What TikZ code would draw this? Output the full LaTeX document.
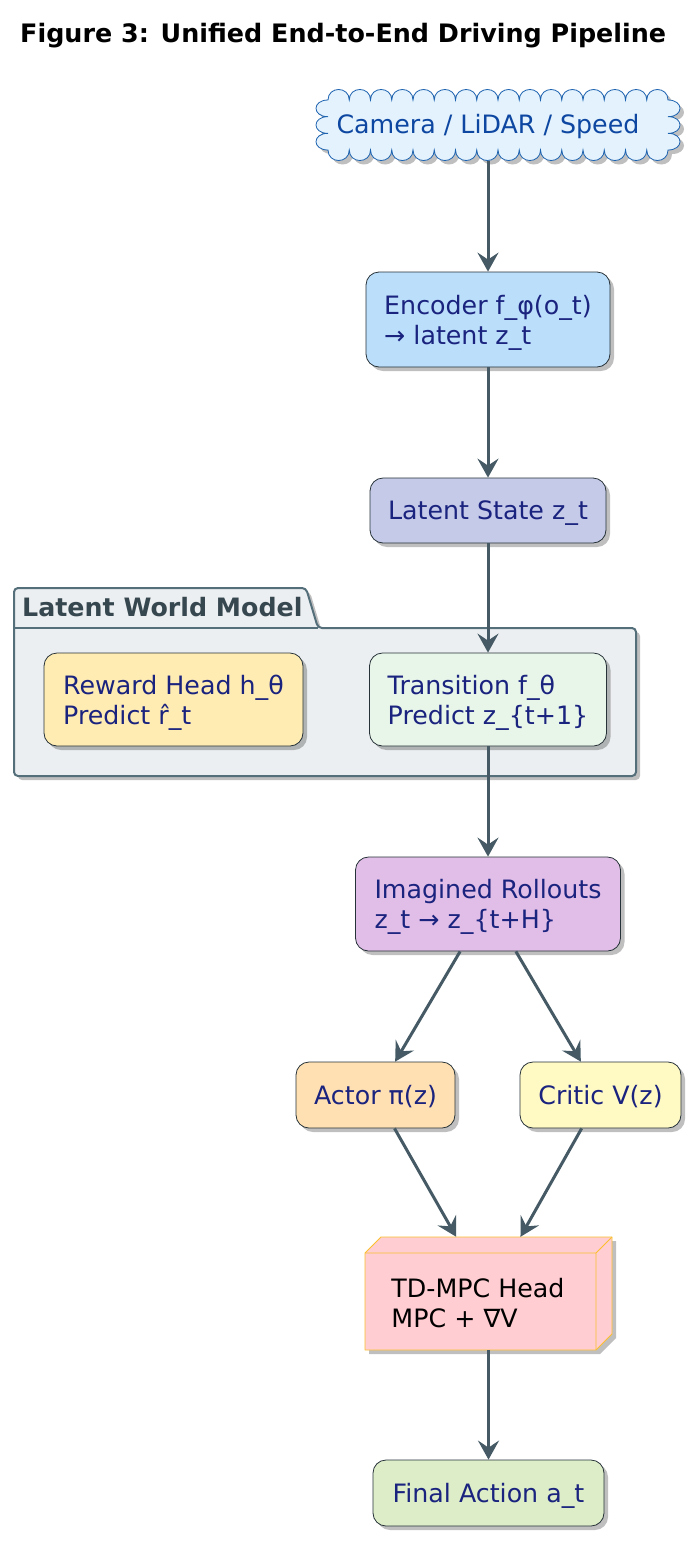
\documentclass[tikz,border=0pt]{standalone}
\usepackage{fontspec}
\setmainfont{DejaVu Sans}
\usetikzlibrary{shadows,arrows.meta}
\definecolor{cloudfill}{HTML}{E3F2FD}
\definecolor{cloudline}{HTML}{1E63B0}
\definecolor{cloudtext}{HTML}{0D47A1}
\definecolor{navytext}{HTML}{1A237E}
\definecolor{boxline}{HTML}{263238}
\definecolor{cEnc}{HTML}{BBDEFB}
\definecolor{cLat}{HTML}{C5CAE9}
\definecolor{cPkg}{HTML}{ECEFF1}
\definecolor{cPkgLine}{HTML}{546E7A}
\definecolor{cPkgText}{HTML}{37474F}
\definecolor{cRew}{HTML}{FFECB3}
\definecolor{cTra}{HTML}{E8F5E9}
\definecolor{cRoll}{HTML}{E1BEE7}
\definecolor{cAct}{HTML}{FFE0B2}
\definecolor{cCri}{HTML}{FFF9C4}
\definecolor{cTD}{HTML}{FFCDD2}
\definecolor{cTDLine}{HTML}{FBC02D}
\definecolor{cFin}{HTML}{DCEDC8}
\definecolor{arrowc}{HTML}{455A64}
\tikzset{
  shadowed/.style={drop shadow={shadow xshift=4pt, shadow yshift=-4pt, opacity=0.25, fill=black}},
  box/.style={draw=boxline, line width=0.8pt, rounded corners=13pt, align=left,
    text=navytext, inner sep=0pt, text depth=0pt, shadowed},
  conn/.style={draw=arrowc, line width=3pt,
    -{Stealth[length=19pt,width=21pt,inset=7pt]}},
}
\begin{document}
\begin{tikzpicture}[x=1pt,y=-1pt,font=\fontsize{25.3}{30}\selectfont]
\useasboundingbox[fill=white] (0,0) rectangle (700,1545);

% title
\node[anchor=base west, inner sep=0pt, font=\fontsize{25.4}{30}\selectfont\bfseries] (title) at (20,42) {Figure 3: Unified End-to-End Driving Pipeline};

% cloud
\path[fill=cloudfill, draw=cloudline, line width=0.8pt, shadowed]
  (328,100)
  \foreach \i in {0,...,15} { .. controls ({328+21.25*\i},86) and ({328+21.25*(\i+1)},86) .. ({328+21.25*(\i+1)},100) }
  \foreach \i in {0,1,2} { .. controls (684,{100+16.667*\i}) and (684,{100+16.667*(\i+1)}) .. (668,{100+16.667*(\i+1)}) }
  \foreach \i in {0,...,15} { .. controls ({668-21.25*\i},164) and ({668-21.25*(\i+1)},164) .. ({668-21.25*(\i+1)},150) }
  \foreach \i in {0,1,2} { .. controls (312,{150-16.667*\i}) and (312,{150-16.667*(\i+1)}) .. (328,{150-16.667*(\i+1)}) }
  -- cycle;
\node[text=cloudtext, inner sep=0pt, text depth=0pt, minimum width=340pt, minimum height=74pt] (cloud) at (488,124) {Camera / LiDAR / Speed};

% encoder & latent
\node[box, fill=cEnc, minimum width=244pt, minimum height=95pt] (enc) at (488,319.5) {Encoder f\_φ(o\_t)\\→ latent z\_t};
\node[box, fill=cLat, minimum width=236pt, minimum height=65pt] (lat) at (488,510.5) {Latent State z\_t};

% package
\path[fill=cPkg, draw=cPkgLine, line width=2pt, rounded corners=4pt, shadowed]
  (14,628) -- (14,588) -- (306,588) -- (318,628) -- (636,628) -- (636,776) -- (14,776) -- cycle;
\draw[cPkgLine, line width=2pt] (14,628) -- (318,628);
\node[anchor=base west, inner sep=0pt, text=cPkgText, font=\fontsize{25.3}{30}\selectfont\bfseries] (pkgtitle) at (22,616) {Latent World Model};

\node[box, fill=cRew, minimum width=259pt, minimum height=93pt] (rew) at (173.5,699.5) {Reward Head h\_θ\\Predict r̂\_t};
\node[box, fill=cTra, minimum width=237pt, minimum height=93pt] (tra) at (488,699.5) {Transition f\_θ\\Predict z\_\{t+1\}};

% rollouts
\node[box, fill=cRoll, minimum width=265pt, minimum height=94pt] (roll) at (488,904) {Imagined Rollouts\\z\_t → z\_\{t+H\}};

% actor / critic
\node[box, fill=cAct, minimum width=159pt, minimum height=66pt] (act) at (375.5,1095) {Actor π(z)};
\node[box, fill=cCri, minimum width=161pt, minimum height=66pt] (cri) at (600.5,1095) {Critic V(z)};

% TD-MPC 3D box
\path[fill=cTD, draw=cTDLine, line width=0.8pt, line join=round, shadowed]
  (365,1253) -- (381,1237) -- (612,1237) -- (612,1334) -- (596,1350) -- (365,1350) -- cycle;
\draw[cTDLine, line width=0.8pt, line join=round] (365,1253) -- (596,1253) -- (612,1237) (596,1253) -- (596,1350);
\node[inner sep=0pt, minimum width=247pt, minimum height=113pt] (td) at (488.5,1293.5) {};
\node[align=left, inner sep=0pt, text depth=0pt, text=black] (tdlabel) at (478,1303) {TD-MPC Head\\MPC + ∇V};

% final
\node[box, fill=cFin, minimum width=231pt, minimum height=66pt] (fin) at (488.5,1493) {Final Action a\_t};

% connectors
\draw[conn] (cloud) -- (enc);
\draw[conn] (enc) -- (lat);
\draw[conn] (lat) -- (tra);
\draw[conn] (tra) -- (roll);
\draw[conn] (roll) -- (act);
\draw[conn] (roll) -- (cri);
\draw[conn] (act) -- (td);
\draw[conn] (cri) -- (td);
\draw[conn] (td) -- (fin);
\end{tikzpicture}
\end{document}
